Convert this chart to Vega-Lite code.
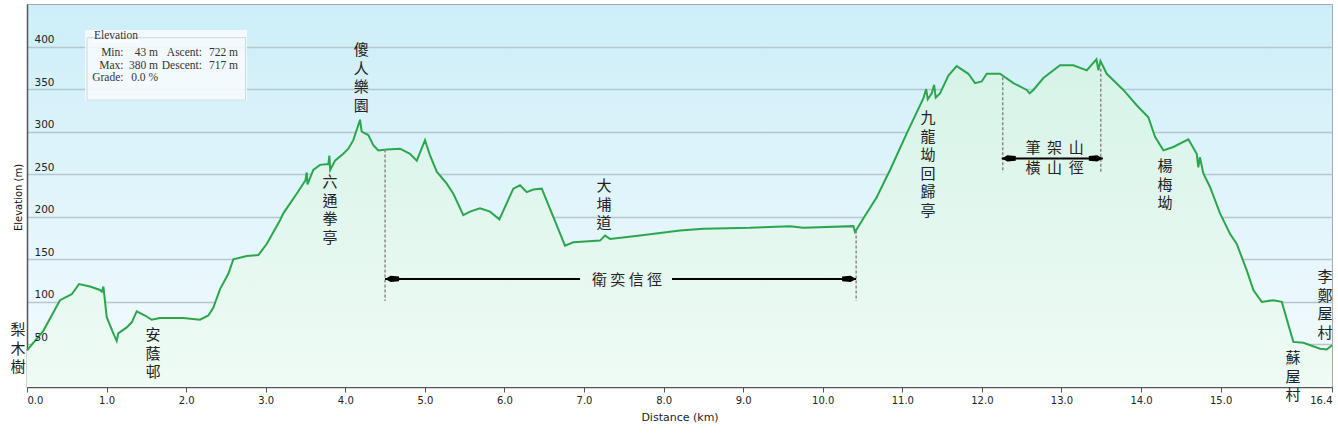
{
  "$schema": "https://vega.github.io/schema/vega-lite/v6.json",
  "width": 1305,
  "height": 383,
  "autosize": "none",
  "padding": {"left": 27, "top": 4, "right": 6, "bottom": 46},
  "background": "white",
  "config": {
    "view": {
      "stroke": "#a8a8a8",
      "strokeWidth": 1,
      "fill": {"gradient": "linear", "x1": 0, "y1": 0, "x2": 0, "y2": 1,
        "stops": [{"offset": 0, "color": "#cdeef9"}, {"offset": 1, "color": "#f4fbfd"}]}
    },
    "font": "DejaVu Sans"
  },
  "resolve": {"axis": {"y": "independent"}},
  "datasets": {
    "profile": [
      {"d": 0.0, "e": 43}, {"d": 0.205, "e": 66}, {"d": 0.415, "e": 102}, {"d": 0.562, "e": 109},
      {"d": 0.654, "e": 121}, {"d": 0.792, "e": 118}, {"d": 0.917, "e": 114}, {"d": 0.94, "e": 112},
      {"d": 0.96, "e": 118}, {"d": 1.002, "e": 82},
      {"d": 1.085, "e": 63}, {"d": 1.127, "e": 54}, {"d": 1.147, "e": 63}, {"d": 1.253, "e": 70},
      {"d": 1.316, "e": 76}, {"d": 1.379, "e": 89}, {"d": 1.483, "e": 84}, {"d": 1.567, "e": 79},
      {"d": 1.671, "e": 81}, {"d": 1.964, "e": 81}, {"d": 2.174, "e": 79}, {"d": 2.279, "e": 84},
      {"d": 2.341, "e": 93}, {"d": 2.426, "e": 115}, {"d": 2.53, "e": 133}, {"d": 2.593, "e": 150},
      {"d": 2.761, "e": 154}, {"d": 2.907, "e": 155}, {"d": 3.012, "e": 168}, {"d": 3.18, "e": 196},
      {"d": 3.221, "e": 204}, {"d": 3.389, "e": 227}, {"d": 3.5, "e": 243}, {"d": 3.515, "e": 252},
      {"d": 3.525, "e": 238}, {"d": 3.598, "e": 255},
      {"d": 3.682, "e": 261}, {"d": 3.787, "e": 262}, {"d": 3.8, "e": 272}, {"d": 3.81, "e": 255},
      {"d": 3.871, "e": 266}, {"d": 3.975, "e": 274},
      {"d": 4.038, "e": 280}, {"d": 4.101, "e": 290}, {"d": 4.185, "e": 314}, {"d": 4.206, "e": 300},
      {"d": 4.289, "e": 296}, {"d": 4.352, "e": 284}, {"d": 4.415, "e": 278}, {"d": 4.52, "e": 279},
      {"d": 4.688, "e": 280}, {"d": 4.813, "e": 274}, {"d": 4.898, "e": 266}, {"d": 5.002, "e": 290},
      {"d": 5.065, "e": 272}, {"d": 5.149, "e": 253}, {"d": 5.275, "e": 239}, {"d": 5.358, "e": 227},
      {"d": 5.483, "e": 202}, {"d": 5.567, "e": 206}, {"d": 5.693, "e": 210}, {"d": 5.819, "e": 206},
      {"d": 5.936, "e": 197}, {"d": 6.029, "e": 216}, {"d": 6.112, "e": 233}, {"d": 6.196, "e": 237},
      {"d": 6.28, "e": 229}, {"d": 6.363, "e": 232}, {"d": 6.469, "e": 233}, {"d": 6.614, "e": 200},
      {"d": 6.761, "e": 166}, {"d": 6.866, "e": 170}, {"d": 7.201, "e": 172}, {"d": 7.264, "e": 178},
      {"d": 7.327, "e": 174}, {"d": 7.704, "e": 178}, {"d": 8.207, "e": 184}, {"d": 8.5, "e": 186},
      {"d": 9.086, "e": 187}, {"d": 9.589, "e": 189}, {"d": 9.756, "e": 187}, {"d": 10.385, "e": 189},
      {"d": 10.406, "e": 182}, {"d": 10.51, "e": 198}, {"d": 10.678, "e": 223}, {"d": 10.846, "e": 255},
      {"d": 11.056, "e": 298}, {"d": 11.264, "e": 339}, {"d": 11.3, "e": 350}, {"d": 11.32, "e": 338},
      {"d": 11.37, "e": 345}, {"d": 11.4, "e": 355}, {"d": 11.42, "e": 340}, {"d": 11.474, "e": 345},
      {"d": 11.579, "e": 366}, {"d": 11.684, "e": 377}, {"d": 11.83, "e": 368}, {"d": 11.914, "e": 357},
      {"d": 11.998, "e": 359}, {"d": 12.061, "e": 368}, {"d": 12.228, "e": 368}, {"d": 12.396, "e": 357},
      {"d": 12.564, "e": 349}, {"d": 12.6, "e": 345}, {"d": 12.647, "e": 349}, {"d": 12.773, "e": 363},
      {"d": 12.982, "e": 378},
      {"d": 13.149, "e": 378}, {"d": 13.318, "e": 372}, {"d": 13.44, "e": 385}, {"d": 13.464, "e": 372},
      {"d": 13.49, "e": 383}, {"d": 13.569, "e": 368},
      {"d": 13.778, "e": 349}, {"d": 13.946, "e": 331}, {"d": 14.092, "e": 317}, {"d": 14.176, "e": 294},
      {"d": 14.281, "e": 278}, {"d": 14.406, "e": 282}, {"d": 14.595, "e": 291}, {"d": 14.7, "e": 274},
      {"d": 14.72, "e": 258}, {"d": 14.74, "e": 270}, {"d": 14.783, "e": 251}, {"d": 14.867, "e": 235},
      {"d": 14.993, "e": 204}, {"d": 15.118, "e": 180},
      {"d": 15.203, "e": 168}, {"d": 15.329, "e": 137}, {"d": 15.412, "e": 114}, {"d": 15.517, "e": 100},
      {"d": 15.663, "e": 102}, {"d": 15.769, "e": 100}, {"d": 15.914, "e": 53}, {"d": 16.04, "e": 52},
      {"d": 16.25, "e": 45}, {"d": 16.334, "e": 44}, {"d": 16.4, "e": 49}
    ],
    "vlabels": [
      {"d": -0.113, "e": 74.7, "t": "梨\n木\n樹"},
      {"d": 1.584, "e": 68.8, "t": "安\n蔭\n邨"},
      {"d": 3.808, "e": 248.8, "t": "六\n通\n拳\n亭"},
      {"d": 4.2, "e": 404.1, "t": "傻\n人\n樂\n園"},
      {"d": 7.252, "e": 244.1, "t": "大\n埔\n道"},
      {"d": 11.323, "e": 324.1, "t": "九\n龍\n坳\n回\n歸\n亭"},
      {"d": 14.302, "e": 267.6, "t": "楊\n梅\n坳"},
      {"d": 15.91, "e": 41.8, "t": "蘇\n屋\n村"},
      {"d": 16.313, "e": 137.1, "t": "李\n鄭\n屋\n村"}
    ],
    "hlabels": [
      {"d": 7.54, "e": 126, "t": "衛 奕 信 徑"},
      {"d": 12.914, "e": 281.2, "t": "筆\u00a0 架\u00a0 山"},
      {"d": 12.914, "e": 257.6, "t": "橫\u00a0 山\u00a0 徑"}
    ],
    "dashes": [
      {"d": 4.5, "e": 279, "e2": 101},
      {"d": 10.42, "e": 184, "e2": 101},
      {"d": 12.262, "e": 364, "e2": 252},
      {"d": 13.494, "e": 374, "e2": 252}
    ],
    "shafts": [
      {"d": 4.5, "d2": 6.95, "e": 127},
      {"d": 8.106, "d2": 10.42, "e": 127},
      {"d": 12.25, "d2": 13.52, "e": 268.6}
    ],
    "heads": [
      {"d": 4.5, "e": 127, "dir": "L"},
      {"d": 10.42, "e": 127, "dir": "R"},
      {"d": 12.25, "e": 268.6, "dir": "L"},
      {"d": 13.52, "e": 268.6, "dir": "R"}
    ],
    "boxes": [
      {"d": 0.729, "d2": 2.765, "e": 419.4, "e2": 335.9, "kind": "outer"},
      {"d": 0.82, "d2": 1.41, "e": 417, "e2": 404, "kind": "tag"}
    ],
    "frame": [
      {"d": 0.754, "d2": 2.746, "e": 410.4, "e2": 337.1}
    ],
    "stats": [
      {"d": 1.213, "e": 392, "t": "Min:"}, {"d": 1.646, "e": 392, "t": "43 m"},
      {"d": 2.199, "e": 392, "t": "Ascent:"}, {"d": 2.652, "e": 392, "t": "722 m"},
      {"d": 1.213, "e": 377.4, "t": "Max:"}, {"d": 1.646, "e": 377.4, "t": "380 m"},
      {"d": 2.199, "e": 377.4, "t": "Descent:"}, {"d": 2.652, "e": 377.4, "t": "717 m"},
      {"d": 1.213, "e": 363.3, "t": "Grade:"}, {"d": 1.646, "e": 363.3, "t": "0.0 %"}
    ],
    "statTitle": [
      {"d": 0.842, "e": 412.4, "t": "Elevation"}
    ]
  },
  "layer": [
    {
      "data": {"name": "profile"},
      "mark": {"type": "area",
        "color": {"gradient": "linear", "x1": 0, "y1": 0, "x2": 0, "y2": 1,
          "stops": [{"offset": 0, "color": "#d6f3e7"}, {"offset": 1, "color": "#effbf4"}]}},
      "encoding": {
        "x": {"field": "d", "type": "quantitative",
          "scale": {"domain": [0, 16.4], "nice": false, "zero": false},
          "axis": {"values": [0, 1, 2, 3, 4, 5, 6, 7, 8, 9, 10, 11, 12, 13, 14, 15, 16.4],
            "format": ".1f", "title": "Distance (km)", "grid": false,
            "domainColor": "#555555", "domainWidth": 1.5, "tickColor": "#555555", "tickSize": 5,
            "labelFontSize": 10, "labelColor": "#222222", "labelPadding": 3, "labelFlush": true,
            "titleFontSize": 11, "titleFontWeight": "normal", "titleColor": "#222222", "titlePadding": 6}},
        "y": {"field": "e", "type": "quantitative",
          "scale": {"domain": [0, 450], "nice": false},
          "axis": {"orient": "left", "values": [50, 100, 150, 200, 250, 300, 350, 400], "title": "Elevation (m)",
            "grid": true, "gridColor": "#b8c6cd", "gridWidth": 1.5, "ticks": false, "labels": false,
            "domainColor": "#555555", "domainWidth": 1.5,
            "titleFontSize": 10, "titleFontWeight": "normal", "titleColor": "#111111",
            "titleX": -9, "titleY": 193, "titleAngle": -90, "titleAlign": "center", "titleBaseline": "middle"}}
      }
    },
    {
      "data": {"name": "profile"},
      "mark": {"type": "line", "color": "#2ba64e", "strokeWidth": 2},
      "encoding": {
        "x": {"field": "d", "type": "quantitative"},
        "y": {"field": "e", "type": "quantitative",
          "axis": {"orient": "left", "values": [50, 100, 150, 200, 250, 300, 350, 400], "title": null,
            "grid": false, "ticks": false, "domain": false, "zindex": 1,
            "labelAlign": "left", "labelBaseline": "bottom", "labelPadding": -7, "labelOffset": -2,
            "labelFontSize": 10.5, "labelColor": "#222222", "labelFlush": false}}
      }
    },
    {
      "data": {"name": "boxes"},
      "mark": {"type": "rect", "fill": "#f8fcfe", "fillOpacity": 0.85},
      "encoding": {
        "x": {"field": "d", "type": "quantitative"}, "x2": {"field": "d2"},
        "y": {"field": "e", "type": "quantitative", "axis": null}, "y2": {"field": "e2"}
      }
    },
    {
      "data": {"name": "frame"},
      "mark": {"type": "rect", "fill": null, "stroke": "#cdd7dc", "strokeWidth": 1},
      "encoding": {
        "x": {"field": "d", "type": "quantitative"}, "x2": {"field": "d2"},
        "y": {"field": "e", "type": "quantitative", "axis": null}, "y2": {"field": "e2"}
      }
    },
    {
      "data": {"name": "statTitle"},
      "mark": {"type": "text", "align": "left", "baseline": "middle", "font": "Liberation Serif", "fontSize": 11.5, "fill": "#333333"},
      "encoding": {
        "x": {"field": "d", "type": "quantitative"},
        "y": {"field": "e", "type": "quantitative", "axis": null},
        "text": {"field": "t"}
      }
    },
    {
      "data": {"name": "stats"},
      "mark": {"type": "text", "align": "right", "baseline": "middle", "font": "Liberation Serif", "fontSize": 11.5, "fill": "#333333"},
      "encoding": {
        "x": {"field": "d", "type": "quantitative"},
        "y": {"field": "e", "type": "quantitative", "axis": null},
        "text": {"field": "t"}
      }
    },
    {
      "data": {"name": "dashes"},
      "mark": {"type": "rule", "color": "#8a8a8a", "strokeWidth": 1.5, "strokeDash": [3, 2]},
      "encoding": {
        "x": {"field": "d", "type": "quantitative"},
        "y": {"field": "e", "type": "quantitative", "axis": null}, "y2": {"field": "e2"}
      }
    },
    {
      "data": {"name": "shafts"},
      "mark": {"type": "rule", "color": "#000000", "strokeWidth": 2},
      "encoding": {
        "x": {"field": "d", "type": "quantitative"}, "x2": {"field": "d2"},
        "y": {"field": "e", "type": "quantitative", "axis": null}
      }
    },
    {
      "data": {"name": "heads"},
      "mark": {"type": "point", "filled": true, "size": 196, "opacity": 1, "color": "#000000", "strokeWidth": 0},
      "encoding": {
        "x": {"field": "d", "type": "quantitative"},
        "y": {"field": "e", "type": "quantitative", "axis": null},
        "shape": {"field": "dir", "type": "nominal", "legend": null,
          "scale": {"domain": ["L", "R"],
            "range": ["M0,0L0.8,-0.45L2,-0.35L2,0.35L0.8,0.45Z", "M0,0L-0.8,-0.45L-2,-0.35L-2,0.35L-0.8,0.45Z"]}}
      }
    },
    {
      "data": {"name": "vlabels"},
      "mark": {"type": "text", "align": "center", "baseline": "top", "lineBreak": "\n", "lineHeight": 18.5,
        "font": "Noto Sans CJK TC", "fontSize": 15, "fill": "#222222"},
      "encoding": {
        "x": {"field": "d", "type": "quantitative"},
        "y": {"field": "e", "type": "quantitative", "axis": null},
        "text": {"field": "t"}
      }
    },
    {
      "data": {"name": "hlabels"},
      "mark": {"type": "text", "align": "center", "baseline": "middle",
        "font": "Noto Sans CJK TC", "fontSize": 15, "fill": "#222222"},
      "encoding": {
        "x": {"field": "d", "type": "quantitative"},
        "y": {"field": "e", "type": "quantitative", "axis": null},
        "text": {"field": "t"}
      }
    }
  ]
}
